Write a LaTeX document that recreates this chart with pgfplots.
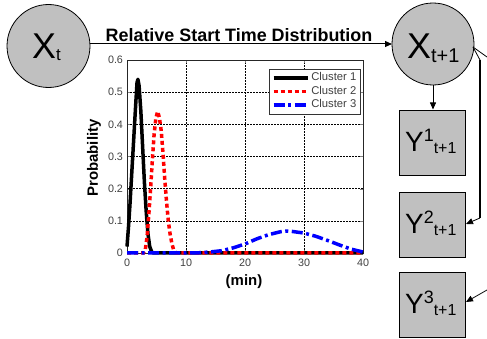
\documentclass[border=0pt]{standalone}
\usepackage{fontspec}
\setmainfont{Liberation Sans}
\usepackage{pgfplots}
\pgfplotsset{compat=1.18}
\usetikzlibrary{arrows.meta}
\definecolor{nodegray}{RGB}{192,192,192}
\newcommand{\fs}[1]{\fontsize{#1}{#1}\selectfont}
\begin{document}
\begin{tikzpicture}
\useasboundingbox (0,0) rectangle (487bp,339bp);
\begin{axis}[
  at={(127bp,86bp)}, anchor=south west,
  scale only axis, width=236bp, height=193bp,
  xmin=0, xmax=40, ymin=0, ymax=0.6,
  xtick={0,10,20,30,40},
  ytick={0,0.1,0.2,0.3,0.4,0.5,0.6},
  yticklabel style={/pgf/number format/fixed,/pgf/number format/precision=1, xshift=-0.5bp},
  xticklabel style={yshift=-2bp},
  tick label style={font=\fs{10.8}, text=black!75},
  /pgf/number format/assume math mode=true,
  tick align=inside, major tick length=3bp,
  grid=major, grid style={black, line width=0.5bp, dash pattern=on 1.5bp off 1.5bp},
  axis line style={black!85, line width=0.8bp},
  clip=false,
  legend style={at={(rel axis cs:0.99,0.955)}, anchor=north east,
    draw=black!80, line width=0.6bp, fill=white, font=\fs{11.3}, text=black!75,
    inner xsep=2bp, inner ysep=1.5bp, row sep=-1.5bp,
    nodes={inner sep=2bp, text height=8.5bp, text depth=2.5bp, anchor=west}},
  legend cell align=left,
  legend image code/.code={\draw[#1] (0bp,0bp) -- (34bp,0bp);},
]
\addplot[black, line width=3.5bp, line join=round] coordinates {
(0,0.02) (0.25,0.08) (0.5,0.15) (0.75,0.23) (1.0,0.31) (1.25,0.39) (1.5,0.47) (1.7,0.53) (1.85,0.54) (2.05,0.52) (2.35,0.44) (2.65,0.33) (2.95,0.22) (3.25,0.13) (3.55,0.06) (3.85,0.02) (4.2,0.003) (4.5,0) (10,0) (20,0) (30,0) (40,0)};
\addlegendentry{Cluster 1}
\addplot[red, line width=3.5bp, dash pattern=on 4bp off 3bp] coordinates {
(0,0) (2.8,0) (3.1,0.01) (3.4,0.05) (3.7,0.12) (4.0,0.2) (4.3,0.29) (4.6,0.37) (4.9,0.42) (5.2,0.44) (5.5,0.42) (5.8,0.38) (6.1,0.31) (6.4,0.23) (6.7,0.16) (7.0,0.1) (7.3,0.06) (7.6,0.03) (7.9,0.01) (8.3,0) (20,0) (40,0)};
\addlegendentry{Cluster 2}
\addplot[blue, line width=3.5bp, dash pattern=on 11bp off 3.5bp on 3bp off 3.5bp] coordinates {
(0,0) (10,0) (12,0.0005) (14,0.003) (16,0.007) (18,0.016) (20,0.028) (22,0.044) (24,0.057) (26,0.066) (27,0.068) (28,0.067) (30,0.062) (32,0.052) (34,0.039) (36,0.025) (38,0.012) (40,0.003)};
\addlegendentry{Cluster 3}
\end{axis}
\begin{scope}[x=1bp,y=1bp]
% circles
\draw[fill=nodegray, line width=0.8bp] (48.5,293) circle[radius=41.5];
\draw[fill=nodegray, line width=0.8bp] (433,295) circle[radius=41];
\node[anchor=base west, inner sep=0] at (32,281) {\fs{36}X\raisebox{-2bp}{\fs{17}t}};
\node[anchor=base west, inner sep=0] at (407,281) {\fs{36}X\raisebox{-4bp}{\fs{20}t+1}};
% boxes
\draw[fill=nodegray, line width=0.8bp] (399,164) rectangle (465,229);
\draw[fill=nodegray, line width=0.8bp] (399,82) rectangle (465,147);
\draw[fill=nodegray, line width=0.8bp] (399,2) rectangle (465,67);
\node[anchor=base west, inner sep=0] at (405,187.5) {\fs{28}Y\raisebox{10bp}{\fs{18}1}\raisebox{-2bp}{\fs{16}t+1}};
\node[anchor=base west, inner sep=0] at (405,105.5) {\fs{28}Y\raisebox{10bp}{\fs{18}2}\raisebox{-2bp}{\fs{16}t+1}};
\node[anchor=base west, inner sep=0] at (405,25.5) {\fs{28}Y\raisebox{10bp}{\fs{18}3}\raisebox{-2bp}{\fs{16}t+1}};
% arrows
\draw[line width=1bp, -{Triangle[length=7bp,width=6bp]}] (90,295) -- (392,295);
\draw[line width=0.8bp, -{Triangle[length=7bp,width=6bp]}] (433,254) -- (433,229.5);
\draw[line width=0.8bp] (473,292) -- (480,279);
\draw[line width=1.5bp] (480,279) -- (480,121);
\draw[line width=0.8bp, -{Triangle[length=7bp,width=6bp]}] (480,121) -- (466,115);
\draw[line width=0.8bp] (473,292) -- (487,282);
\draw[line width=0.8bp, -{Triangle[length=7bp,width=6bp]}] (487,49) -- (466,37);
% texts
\node[anchor=base, inner sep=0] at (239,298) {\fs{18}\bfseries Relative Start Time Distribution};
\node[rotate=90, anchor=center, inner sep=0] at (94,181) {\fs{15}\bfseries Probability};
\node[anchor=center, inner sep=0] at (244,57) {\fs{15}\bfseries (min)};
\end{scope}
\end{tikzpicture}
\end{document}
